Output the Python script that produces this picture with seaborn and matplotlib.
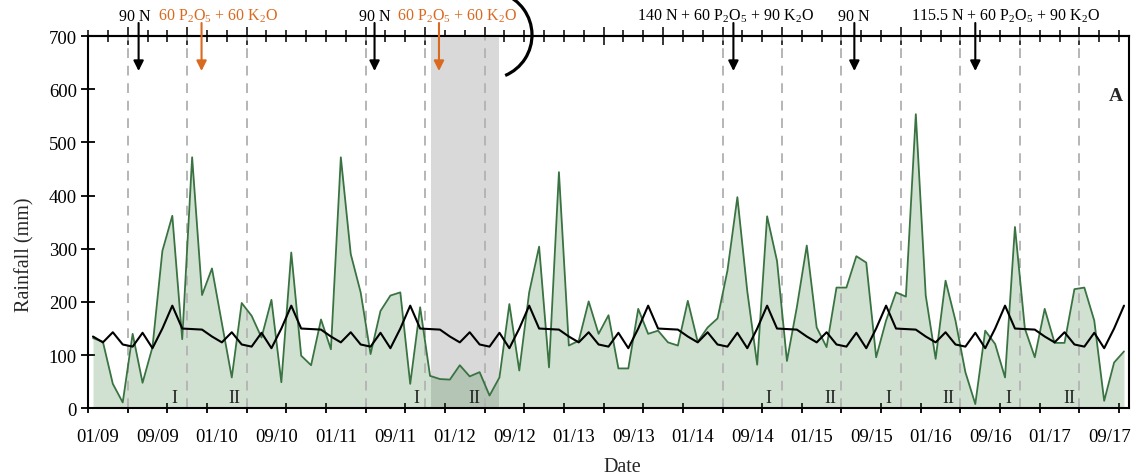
import numpy as np
import pandas as pd
import matplotlib
matplotlib.use("Agg")
import matplotlib.pyplot as plt
import seaborn as sns
from matplotlib.patches import Arc

# ---------------- data ----------------
rainfall = [132, 125, 46, 11, 140, 48, 115, 296, 362, 130, 472, 213,
            263, 160, 58, 198, 174, 133, 204, 49, 293, 99, 81, 167,
            111, 472, 290, 218, 102, 183, 212, 218, 46, 190, 61, 55,
            54, 81, 60, 68, 24, 58, 196, 71, 218, 304, 77, 444,
            118, 127, 201, 140, 175, 75, 75, 187, 140, 146, 124, 118,
            202, 125, 152, 169, 259, 397, 220, 82, 361, 277, 89, 190,
            306, 152, 115, 227, 227, 286, 274, 96, 165, 218, 210, 553,
            212, 93, 240, 165, 68, 8, 146, 121, 58, 341, 150, 96,
            187, 123, 123, 224, 227, 165, 14, 86, 107]

long_term_mean = [135, 124, 143, 120, 116, 142, 113, 150, 193, 150, 149, 148,
                  135, 124, 143, 120, 116, 142, 113, 150, 193, 150, 149, 148,
                  135, 124, 143, 120, 116, 142, 113, 150, 193, 150, 149, 148,
                  135, 124, 143, 120, 116, 142, 113, 150, 193, 150, 149, 148,
                  135, 124, 143, 120, 116, 142, 113, 150, 193, 150, 149, 148,
                  135, 124, 143, 120, 116, 142, 113, 150, 193, 150, 149, 148,
                  135, 124, 143, 120, 116, 142, 113, 150, 193, 150, 149, 148,
                  135, 124, 143, 120, 116, 142, 113, 150, 193, 150, 149, 148,
                  135, 124, 143, 120, 116, 142, 113, 150, 193]

date_labels = ["01/09", "09/09", "01/10", "09/10", "01/11", "09/11", "01/12",
               "09/12", "01/13", "09/13", "01/14", "09/14", "01/15", "09/15",
               "01/16", "09/16", "01/17", "09/17"]

season_bounds = [3.5, 9.5, 15.5, 27.5, 33.5, 39.5, 63.5, 69.5, 75.5, 81.5,
                 87.5, 93.5, 99.5]
season_labels = ["I", "II", "I", "II", "I", "II", "I", "II", "I", "II"]
season_label_x = [8.2, 14.3, 32.6, 38.5, 68.1, 74.4, 80.2, 86.3, 92.3, 98.5]

grey_span = (34.1, 40.95)

fert_labels = ["90 N", r"60 P$_2$O$_5$ + 60 K$_2$O", "90 N",
               r"60 P$_2$O$_5$ + 60 K$_2$O",
               r"140 N + 60 P$_2$O$_5$ + 90 K$_2$O", "90 N",
               r"115.5 N + 60 P$_2$O$_5$ + 90 K$_2$O"]
fert_text_x = [4.2, 12.6, 28.4, 36.7, 63.75, 76.7, 92.0]
fert_arrow_x = [4.6, 10.95, 28.4, 34.9, 64.6, 76.8, 89.0]
ORANGE = "#D9691F"
fert_colors = ["black", ORANGE, "black", ORANGE, "black", "black", "black"]

# ---------------- style ----------------
sns.set_theme(style="ticks")
plt.rcParams["font.family"] = ["Liberation Serif", "DejaVu Serif"]
plt.rcParams["mathtext.fontset"] = "custom"
plt.rcParams["mathtext.rm"] = "Liberation Serif"
plt.rcParams["mathtext.it"] = "Liberation Serif:italic"
plt.rcParams["mathtext.bf"] = "Liberation Serif:bold"

df = pd.DataFrame({"month": np.arange(len(rainfall)),
                   "rain": rainfall,
                   "mean": long_term_mean})

fig = plt.figure(figsize=(11.36, 4.77), dpi=100)
ax = fig.add_axes([0.0775, 0.1419, 0.9163, 0.7805])

ax.axvspan(*grey_span, color="#D9D9D9", zorder=0.5, lw=0)
ax.fill_between(df["month"], 0, df["rain"], color="#4A8A4A", alpha=0.25,
                lw=0, zorder=1)
for b in season_bounds:
    ax.axvline(b, color="#B5B5B5", ls=(0, (5, 4)), lw=1.4, zorder=1.5)

sns.lineplot(data=df, x="month", y="rain", color="#3A7342", lw=1.3,
             ax=ax, zorder=2)
sns.lineplot(data=df, x="month", y="mean", color="black", lw=1.5,
             ax=ax, zorder=3)

ax.set_xlim(-0.5, 104.5)
ax.set_ylim(0, 700)

# axes / ticks
for s in ax.spines.values():
    s.set_linewidth(1.5)
    s.set_color("black")

ax.set_yticks(range(0, 701, 100))
ax.tick_params(axis="y", direction="inout", length=10, width=1.3,
               labelsize=13.5, pad=3, colors="black")
ax.set_xticks([6 * k + 0.5 for k in range(len(date_labels))])
ax.set_xticklabels(date_labels)
ax.set_xticks(np.arange(-0.5, 104.6, 4), minor=True)
ax.tick_params(axis="x", which="major", length=0, labelsize=13.5, pad=14,
               colors="black")
ax.tick_params(axis="x", which="minor", direction="inout", length=7,
               width=1.3, colors="black")

secax = ax.secondary_xaxis("top")
top_major = [3.5, 9.5, 15.5, 27.5, 33.5, 39.5, 51.5, 57.5, 63.5, 69.5, 75.5,
             81.5, 87.5, 93.5, 99.5]
secax.set_xticks(top_major)
secax.set_xticks(np.arange(-0.5, 104.6, 2), minor=True)
secax.tick_params(which="major", direction="inout", length=13, width=1.3,
                  labeltop=False)
secax.tick_params(which="minor", direction="inout", length=8, width=1.3)
secax.spines["top"].set_linewidth(1.5)

ax.set_xlabel("Date", fontsize=14.5)
ax.set_ylabel("Rainfall (mm)", fontsize=14.5)
ax.xaxis.set_label_coords(0.513, -0.13)
ax.yaxis.set_label_coords(-0.051, 0.414)

# season labels
for lab, x in zip(season_labels, season_label_x):
    ax.text(x, 11, lab, ha="center", va="baseline", fontsize=13, zorder=4)

# panel letter
ax.text(103.2, 588, "A", ha="center", va="center", fontsize=14,
        fontweight="bold")

# fertilisation annotations
trans = ax.get_xaxis_transform()
for lab, tx, axx, c in zip(fert_labels, fert_text_x, fert_arrow_x,
                           fert_colors):
    ax.text(tx, 1.044, lab, transform=trans, ha="center", va="baseline",
            fontsize=11.5, color=c, clip_on=False)
    ax.annotate("", xy=(axx, 0.906), xytext=(axx, 1.035), xycoords=trans,
                textcoords=trans,
                arrowprops=dict(arrowstyle="-|>", color=c, lw=1.5,
                                mutation_scale=15, shrinkA=0, shrinkB=0),
                annotation_clip=False)

# decorative arc at the top (figure inches, so it stays circular)
arc = Arc((4.88, 4.41), 0.88, 0.88, theta1=-67, theta2=70,
          transform=fig.dpi_scale_trans, color="black", lw=2.3,
          clip_on=False)
fig.add_artist(arc)

fig.savefig("out.png", dpi=100)
